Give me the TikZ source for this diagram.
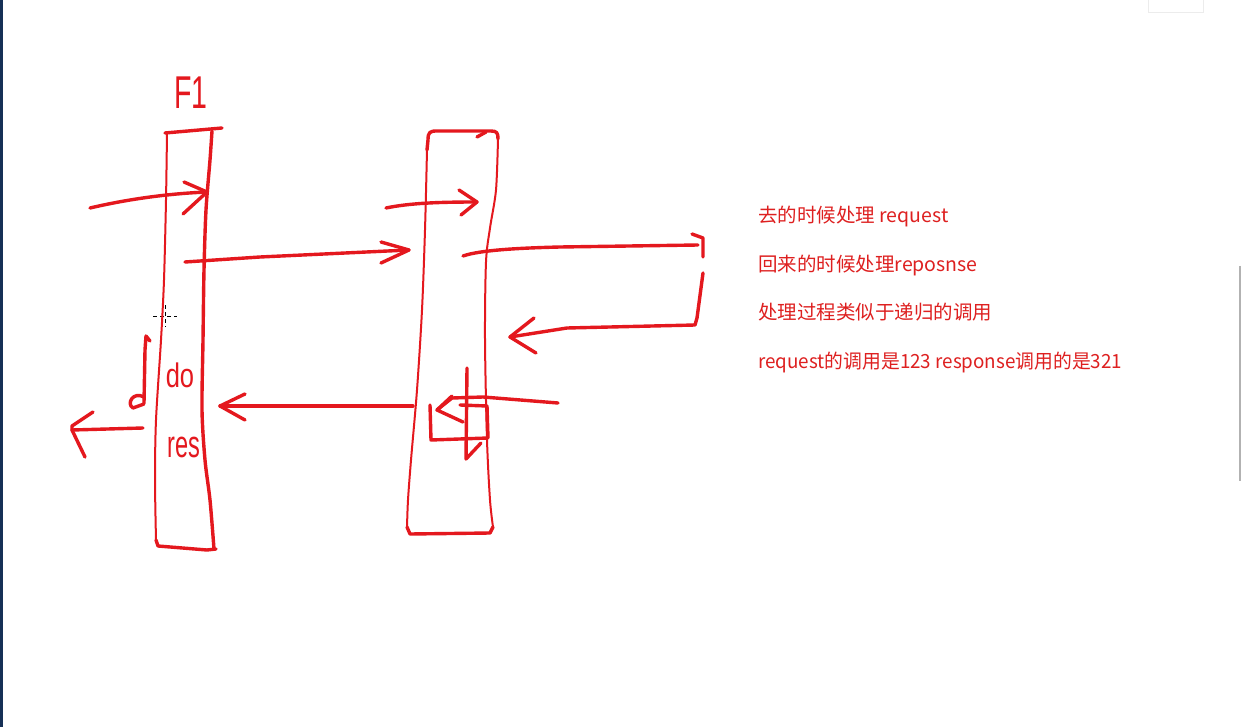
\documentclass[tikz,border=0pt]{standalone}
\usepackage{fontspec}
\newfontfamily\cjk{Noto Sans CJK SC}
\newfontfamily\hand{Liberation Sans}
\definecolor{inkred}{RGB}{228,24,30}
\definecolor{notered}{RGB}{222,32,32}
\definecolor{navy}{RGB}{22,48,86}
\begin{document}
\begin{tikzpicture}[x=1pt,y=-1pt,
  ink/.style={draw=inkred,line width=3.4pt,line cap=round,line join=round},
  side/.style={draw=inkred,line width=2pt,line cap=round,line join=round},
  note/.style={text=notered,anchor=base west,inner sep=0pt,font=\cjk\fontsize{19.5}{22}\selectfont},
  handtext/.style={text=inkred,inner sep=0pt,font=\hand}]
\useasboundingbox (0,0) rectangle (1247,727);
\fill[white] (0,0) rectangle (1247,727);
% screen artifacts
\fill[navy] (0,0) rectangle (3,727);
\draw[gray!60,line width=2.5pt] (1240,266) -- (1240,481);
\draw[gray!15,line width=0.8pt] (1148,-1) rectangle (1203,12);
\draw[black,line width=0.9pt,dash pattern=on 4pt off 3pt] (153,316) -- (177,316) (165,305) -- (165,327);

% ---------- left bar F1 ----------
\node[handtext,font=\hand\fontsize{46}{46}\selectfont,xscale=0.62,anchor=center] (f1) at (191,93) {F1};
\draw[ink] (165,133) -- (222,128);
\draw[side] plot[smooth] coordinates {(167,133)(166,200)(164,280)(161,340)(156,420)(155,480)(156,540)};
\draw[ink] (156,540) -- (158,546) -- (207,550) -- (216,549);
\draw[ink] plot[smooth] coordinates {(212,131)(210,160)(206,210)(204,270)(203,340)(202,410)(205,460)(210,500)(214,549)};
\node[handtext,font=\hand\fontsize{34}{34}\selectfont,xscale=0.75,anchor=center] (do) at (180,375) {do};
\node[handtext,font=\hand\fontsize{38}{38}\selectfont,xscale=0.62,anchor=center] (res) at (184,447) {res};

% ---------- right bar ----------
\draw[ink] (427,150) -- (428,140) .. controls (428,132) and (430,131) .. (437,131) -- (491,131) .. controls (497,131) and (498,133) .. (498,139);
\draw[ink] (477,137) -- (486,132);
\draw[side] plot[smooth] coordinates {(427,150)(425,230)(422,310)(417,390)(411,460)(408,500)(407,527)};
\draw[ink] (407,527) -- (410,534) -- (490,533) -- (493,527);
\draw[side] plot[smooth] coordinates {(498,139)(496,190)(490,228)(486,262)(485,340)(487,440)(490,500)(493,527)};

% ---------- arrows ----------
% into F1
\coordinate (a1s) at (90,208);
\coordinate (a1e) at (207,192);
\draw[ink] (a1s) .. controls (120,201) and (160,194) .. (a1e);
\draw[ink] (184,182) -- (a1e) -- (183,214);
% F1 -> bar 2
\coordinate (a2s) at (185,262);
\coordinate (a2e) at (409,250);
\draw[ink] (a2s) -- (260,257) -- (a2e);
\draw[ink] (381,242) -- (a2e) -- (381,263);
% inside bar 2
\coordinate (a3s) at (386,208);
\coordinate (a3e) at (477,202);
\draw[ink] (a3s) .. controls (410,203) and (440,202) .. (a3e);
\draw[ink] (459,190) -- (a3e) -- (461,215);
% out to the right
\coordinate (a4s) at (463,256);
\coordinate (a4e) at (698,245);
\draw[ink] (a4s) .. controls (480,250) and (520,248) .. (560,247) -- (a4e);
\draw[ink] (692,234) -- (703,238) -- (703,257);
% coming back
\coordinate (a5s) at (703,273);
\coordinate (a5e) at (510,337);
\draw[ink] (a5s) -- (697,318) -- (695,325) -- (567,328) -- (a5e);
\draw[ink] (534,318) -- (a5e) -- (536,353);
% incoming at bottom right of bar 2
\coordinate (a6s) at (558,403);
\coordinate (a6e) at (437,410);
\draw[ink] (a6s) -- (483,397) -- (452,398) -- (a6e);
\draw[ink] (452,396) -- (a6e) -- (463,422);
\draw[ink] (430,405) -- (431,440) -- (488,438) -- (487,406) -- (460,405);
\coordinate (a9s) at (467,368);
\coordinate (a9e) at (466,459);
\draw[ink] (a9s) -- (a9e) -- (481,443);
% bar 2 -> F1 (return)
\coordinate (a7s) at (413,406);
\coordinate (a7e) at (220,406);
\draw[ink] (a7s) -- (300,406) -- (a7e);
\draw[ink] (245,394) -- (a7e) -- (245,420);
% small down stroke left of F1
\draw[ink] (150,341) -- (146,336) -- (145,350) -- (144,403);
\draw[ink] (144,397) .. controls (133,391) and (126,404) .. (133,408) -- (144,404);
% out of F1 to the left
\coordinate (a8s) at (143,428);
\coordinate (a8e) at (72,430);
\draw[ink] (a8s) -- (a8e);
\draw[ink] (93,412) -- (72,426) -- (a8e) -- (85,457);

% ---------- notes ----------
\node[note] (n1) at (758,223) {去的时候处理 request};
\node[note] (n2) at (758,272) {回来的时候处理reposnse};
\node[note] (n3) at (758,319) {处理过程类似于递归的调用};
\node[note,xscale=0.965] (n4) at (758,368) {request的调用是123 response调用的是321};
\end{tikzpicture}
\end{document}
